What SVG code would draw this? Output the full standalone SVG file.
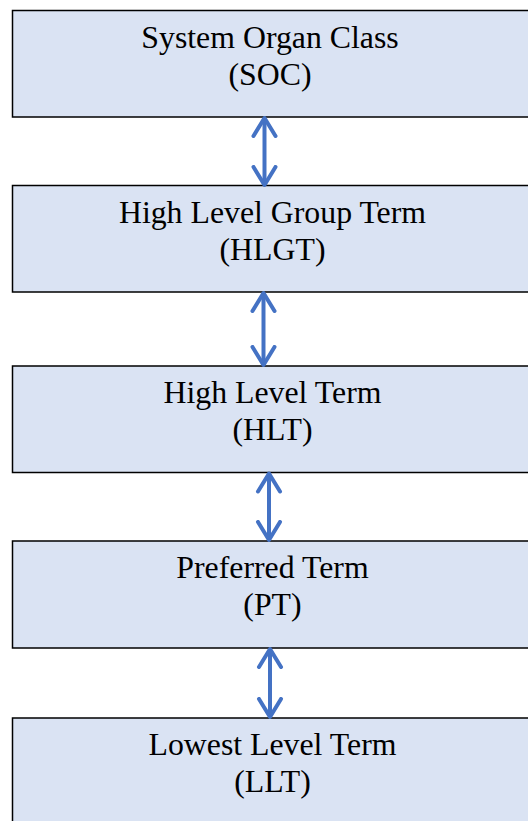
<svg xmlns="http://www.w3.org/2000/svg" width="528" height="821" viewBox="0 0 528 821">
<defs>
<style>
.box{fill:#DAE3F3;stroke:#000;stroke-width:1.5}
.t{font-family:"Liberation Serif","Times New Roman",serif;font-size:31.8px;fill:#000;text-anchor:middle}
.c{stroke:#4472C4;stroke-width:4;fill:none}
</style>
<marker id="ah" markerUnits="userSpaceOnUse" markerWidth="30" markerHeight="30" refX="20" refY="12" orient="auto-start-reverse" viewBox="0 0 30 24">
<path d="M2,1 L20,12 L2,23" fill="none" stroke="#4472C4" stroke-width="4" stroke-linecap="round" stroke-linejoin="round"/>
</marker>
</defs>
<rect width="528" height="821" fill="#fff"/>
<g id="soc"><rect class="box" x="12.5" y="10.5" width="530" height="106.5"/><text class="t" x="270" y="48">System Organ Class</text><text class="t" x="270" y="85">(SOC)</text></g>
<g id="hlgt"><rect class="box" x="12.5" y="185.5" width="530" height="106.5"/><text class="t" x="272.5" y="222.5">High Level Group Term</text><text class="t" x="272.5" y="259.5">(HLGT)</text></g>
<g id="hlt"><rect class="box" x="12.5" y="366" width="530" height="106.5"/><text class="t" x="272.5" y="403">High Level Term</text><text class="t" x="272.5" y="440">(HLT)</text></g>
<g id="pt"><rect class="box" x="12.5" y="541" width="530" height="107"/><text class="t" x="272.5" y="578">Preferred Term</text><text class="t" x="272.5" y="615">(PT)</text></g>
<g id="llt"><rect class="box" x="12.5" y="718" width="530" height="120"/><text class="t" x="272.5" y="755">Lowest Level Term</text><text class="t" x="272.5" y="792">(LLT)</text></g>
<g id="connectors">
<line class="c" x1="264.5" y1="118" x2="264.5" y2="185" marker-start="url(#ah)" marker-end="url(#ah)"/>
<line class="c" x1="263.5" y1="293" x2="263.5" y2="365" marker-start="url(#ah)" marker-end="url(#ah)"/>
<line class="c" x1="269" y1="473.5" x2="269" y2="540" marker-start="url(#ah)" marker-end="url(#ah)"/>
<line class="c" x1="270" y1="649" x2="270" y2="717" marker-start="url(#ah)" marker-end="url(#ah)"/>
</g>
</svg>
